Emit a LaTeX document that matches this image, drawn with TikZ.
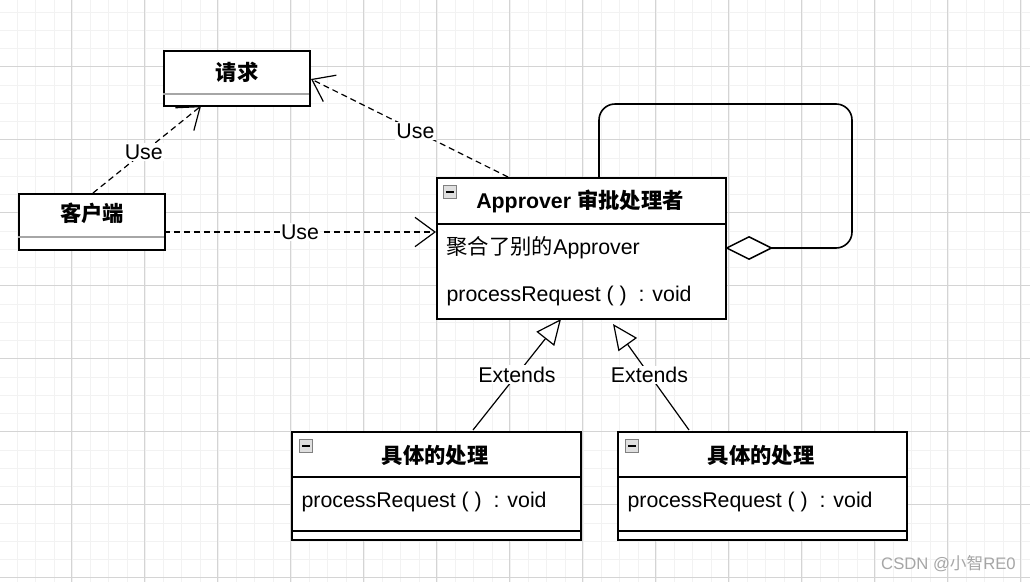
\documentclass[tikz,border=0pt]{standalone}
\usepackage{fontspec}
\setmainfont{Liberation Sans}
\newfontfamily\cjk{Noto Sans CJK SC}
\usetikzlibrary{arrows.meta,calc}
\definecolor{gmin}{HTML}{F2F2F2}
\definecolor{gmaj}{HTML}{D4D4D4}
\begin{document}
\begin{tikzpicture}[x=0.75pt,y=-0.75pt,
  txt/.style={font=\fontsize{16}{19}\selectfont, inner sep=1pt},
  btxt/.style={font=\fontsize{16}{19}\selectfont\bfseries\cjk, inner sep=1pt},
  box/.style={draw=black, line width=1.2pt, fill=white, minimum width=#1, inner sep=0pt},
  dep/.style={line width=0.9pt, dash pattern=on 4.5pt off 3pt, -{Straight Barb[length=15pt,width=22pt,line width=0.9pt]}},
  ext/.style={line width=0.9pt, -{Triangle[open,length=19pt,width=17pt,fill=white,line width=0.9pt]}},
  lab/.style={font=\fontsize{16}{19}\selectfont, fill=white, inner sep=1pt},
  icon/.style={draw=gray, fill=gray!25, minimum size=10pt, inner sep=0pt}]
\useasboundingbox (0,0) rectangle (1030,582);
\fill[white] (0,0) rectangle (1030,582);
% grid
\foreach \k in {0,...,56} {\draw[gmin, line width=0.7pt] ({17.5+18.25*\k},0) -- ({17.5+18.25*\k},582);}
\foreach \k in {0,...,32} {\draw[gmin, line width=0.7pt] (0,{12+18.25*\k}) -- (1030,{12+18.25*\k});}
\foreach \k in {-1,...,13} {\draw[gmaj, line width=0.7pt] ({71.3+73*\k},0) -- ({71.3+73*\k},582);}
\foreach \k in {-1,...,7} {\draw[gmaj, line width=0.7pt] (0,{66+73*\k}) -- (1030,{66+73*\k});}

% 请求
\node[box=146*0.75pt, minimum height=55*0.75pt, anchor=north west] (req) at (163,50) {};
\draw[gray!70, line width=1pt] (163,94) -- (309,94);
\node[btxt] (reqt) at (237,72) {请求};
% 客户端
\node[box=146*0.75pt, minimum height=56*0.75pt, anchor=north west] (cli) at (18,193) {};
\draw[gray!70, line width=1pt] (18,237) -- (164,237);
\node[btxt] (clit) at (92,213) {客户端};
% Approver
\node[box=289*0.75pt, minimum height=141*0.75pt, anchor=north west] (app) at (436,177) {};
\draw[line width=1.2pt] (436,224) -- (725,224);
\node[icon] (ic1) at (450,192) {};
\draw[line width=1pt] (446,192) -- (454,192);
\node[font=\fontsize{16}{19}\selectfont\bfseries, inner sep=1pt] (appt) at (580,201) {Approver {\cjk 审批处理者}};
\node[txt, anchor=west] (appa) at (445,248) {{\cjk 聚合了别的}Approver};
\node[txt, anchor=west] (appm) at (445,296) {processRequest ( ) \ : void};

% sub boxes
\foreach \n/\x in {s1/291,s2/617}{
  \node[box=289*0.75pt, minimum height=108*0.75pt, anchor=north west] (\n) at (\x,431) {};
  \draw[line width=1.2pt] (\x,477) -- ({\x+289},477);
  \draw[line width=1.2pt] (\x,531) -- ({\x+289},531);
  \node[icon] (\n ic) at ({\x+15},446) {};
  \draw[line width=1pt] ({\x+11},446) -- ({\x+19},446);
  \node[btxt] (\n t) at ({\x+144},455) {具体的处理};
  \node[txt, anchor=west] (\n m) at ({\x+9},502) {processRequest ( ) \ : void};
}

% dependencies
\draw[dep] (93,193) -- node[lab, pos=0.47] {Use} (201,106);
\draw[dep] (508,177) -- node[lab, pos=0.47] {Use} (311,79);
\draw[dep] (164,232) -- node[lab, pos=0.5] {Use} (436,232);

% self aggregation
\coordinate (c1) at (599,104);
\coordinate (c2) at (852,104);
\coordinate (c3) at (852,248);
\draw[line width=1.2pt, rounded corners=12pt, {Diamond[open,length=36pt,width=18pt,fill=white,line width=1.1pt]}-]
  (725,248) -- (c3) -- (c2) -- (c1) -- (599,177);

% extends
\draw[ext] (473,430) -- node[lab, pos=0.5] {Extends} (561,319);
\draw[ext] (689,430) -- node[lab, pos=0.52] {Extends} (613,324);

\node[font=\fontsize{12.5}{14}\selectfont, text=gray!70, anchor=east, inner sep=0pt] (wm) at (1016,564) {CSDN @{\cjk 小智}RE0};
\end{tikzpicture}
\end{document}
